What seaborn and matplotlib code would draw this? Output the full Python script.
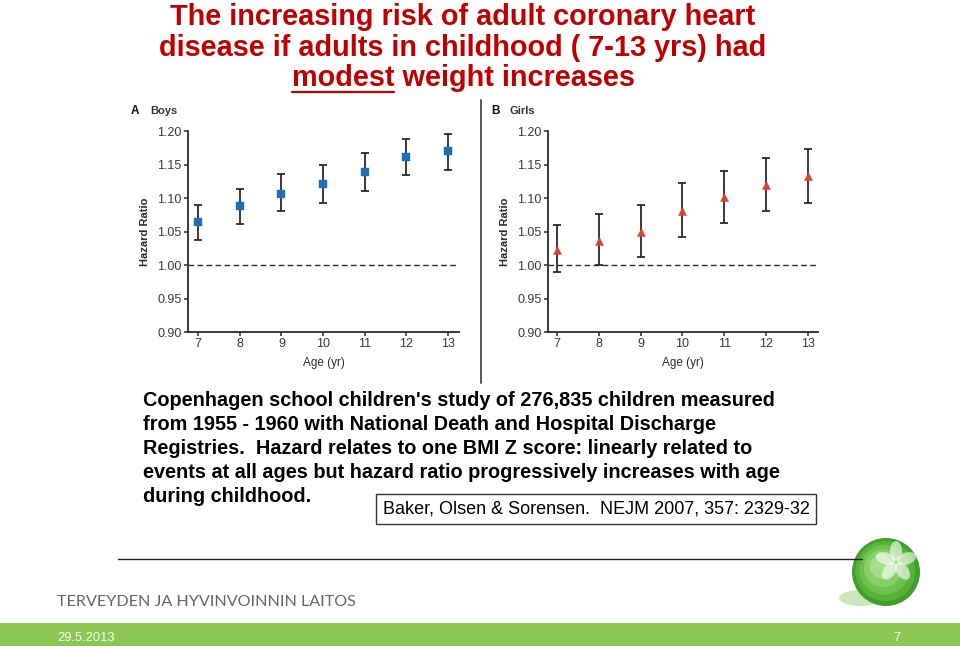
import numpy as np
import matplotlib
matplotlib.use("Agg")
import matplotlib.pyplot as plt
import matplotlib.patches as mpatches
import seaborn as sns
import pandas as pd

# Hazard ratios (point estimate, lower and upper 95% CI)
ages = [7, 8, 9, 10, 11, 12, 13]
boys_hr = [1.064, 1.088, 1.106, 1.121, 1.139, 1.161, 1.170]
boys_lo = [1.037, 1.061, 1.080, 1.093, 1.111, 1.134, 1.142]
boys_hi = [1.089, 1.114, 1.136, 1.149, 1.167, 1.188, 1.196]
girls_hr = [1.022, 1.036, 1.050, 1.081, 1.101, 1.119, 1.133]
girls_lo = [0.989, 1.000, 1.012, 1.042, 1.062, 1.080, 1.093]
girls_hi = [1.060, 1.076, 1.089, 1.122, 1.141, 1.160, 1.173]
y_ticks = [0.90, 0.95, 1.00, 1.05, 1.10, 1.15, 1.20]

title_lines = ["The increasing risk of adult coronary heart",
               "disease if adults in childhood ( 7-13 yrs) had"]
body_lines = ["Copenhagen school children's study of 276,835 children measured",
              "from 1955 - 1960 with National Death and Hospital Discharge",
              "Registries.  Hazard relates to one BMI Z score: linearly related to",
              "events at all ages but hazard ratio progressively increases with age",
              "during childhood."]
citation = "Baker, Olsen & Sorensen.  NEJM 2007, 357: 2329-32"

sns.set_style("ticks")
plt.rcParams['font.family'] = ['Liberation Sans', 'DejaVu Sans']

W, H = 960, 646
fig = plt.figure(figsize=(9.6, 6.46), dpi=100)


def px(x, y):
    # pixel position on the slide -> figure fraction
    return x / W, 1 - y / H


def box(x0, y0, x1, y1):
    return [x0 / W, 1 - y1 / H, (x1 - x0) / W, (y1 - y0) / H]


# Slide title
red = '#c00000'
tsize = 20.8
for i, line in enumerate(title_lines):
    fig.text(*px(463, 17 + 30.5 * i), line, ha='center', va='center',
             fontsize=tsize, fontweight='bold', color=red)
t3 = fig.text(*px(463, 78), "modest weight increases", ha='center', va='center',
              fontsize=tsize, fontweight='bold', color=red)
renderer = fig.canvas.get_renderer()
bb = t3.get_window_extent(renderer)
tmp = fig.text(0, 0, "modest", fontsize=tsize, fontweight='bold')
w_mod = tmp.get_window_extent(renderer).width
tmp.remove()
fig.add_artist(plt.Line2D([bb.x0 / W, (bb.x0 + w_mod) / W], [1 - 92 / H] * 2,
                          color=red, lw=1.6))

# The two panels
panels = [
    ("A", "Boys", boys_hr, boys_lo, boys_hi, 's', '#1f6fb3', box(188, 131, 459, 332), (6.76, 13.26)),
    ("B", "Girls", girls_hr, girls_lo, girls_hi, '^', '#d9432e', box(548, 131, 818, 332), (6.785, 13.24)),
]
dark = '#2a2a2a'
for letter, name, hr, lo, hi, mk, col, rect, xl in panels:
    ax = fig.add_axes(rect)
    df = pd.DataFrame({"age": ages, "hr": hr, "lo": lo, "hi": hi})
    ax.axhline(1.0, color=dark, ls=(0, (4, 2.5)), lw=1.0, zorder=1)
    ax.errorbar(df["age"], df["hr"], yerr=[df["hr"] - df["lo"], df["hi"] - df["hr"]],
                fmt='none', ecolor=dark, elinewidth=1.3, capsize=3.2, capthick=1.3, zorder=2)
    sns.scatterplot(data=df, x="age", y="hr", marker=mk, color=col, s=32 if mk == 's' else 34,
                    edgecolor=col, linewidth=0.3, ax=ax, zorder=3, legend=False)
    ax.set_xlim(*xl)
    ax.set_ylim(0.90, 1.20)
    ax.set_xticks(ages)
    ax.set_yticks(y_ticks)
    ax.set_yticklabels([f"{v:.2f}" for v in y_ticks])
    sns.despine(ax=ax)
    for s in ['left', 'bottom']:
        ax.spines[s].set_linewidth(1.3)
        ax.spines[s].set_color(dark)
    ax.tick_params(axis='both', labelsize=9, labelcolor='#3a3a3a', colors=dark,
                   length=3, width=1.1, pad=1.5)
    ax.set_xlabel("Age (yr)", fontsize=8.5, color=dark, labelpad=5)
    ax.set_ylabel("Hazard Ratio", fontsize=8, fontweight='bold', color=dark, labelpad=5)
    x0 = rect[0] * W
    fig.text(*px(x0 - 57, 111), letter, fontsize=8.5, fontweight='bold', color='#111', va='center')
    fig.text(*px(x0 - 38, 111), name, fontsize=8, fontweight='bold', color='#333', va='center')

# separator between the panels
fig.add_artist(plt.Line2D([481 / W] * 2, [1 - 100 / H, 1 - 383 / H], color='#555', lw=1.4))

# Description text
for i, line in enumerate(body_lines):
    fig.text(*px(143, 400 + 24 * i), line, ha='left', va='center',
             fontsize=14.3, fontweight='bold', color='black')

fig.text(*px(596, 509), citation, ha='center', va='center', fontsize=13, color='black',
         bbox=dict(boxstyle='square,pad=0.35', fc='white', ec='#333', lw=1.0))

# Footer
fig.add_artist(plt.Line2D([118 / W, 862 / W], [1 - 559 / H] * 2, color='#222', lw=1.0))
fig.text(*px(57, 602), "TERVEYDEN JA HYVINVOINNIN LAITOS", ha='left', va='center',
         fontsize=11.6, color='#666666', family='Lato')
fig.add_artist(mpatches.Rectangle((0, 0), 1, 23 / H, transform=fig.transFigure,
                                  fc='#8cc653', ec='none'))
fig.text(*px(57, 638), "29.5.2013", ha='left', va='center', fontsize=9.3, color='white')
fig.text(*px(897, 638), "7", ha='center', va='center', fontsize=9.3, color='white')

# green sphere logo
lax = fig.add_axes(box(830, 530, 940, 615))
lax.set_xlim(0, 110)
lax.set_ylim(85, 0)
lax.set_aspect('equal')
lax.axis('off')
lax.add_patch(mpatches.Ellipse((30, 68), 42, 16, fc='#a8d890', ec='none', alpha=0.6))
for r, c in zip([34, 30, 25, 19, 12], ['#3f9f2a', '#56b33a', '#6cc24c', '#86d066', '#a5de88']):
    lax.add_patch(mpatches.Circle((56 - (34 - r) * 0.2, 42 - (34 - r) * 0.25), r, fc=c, ec='none'))
for ang in [0, 72, 144, 216, 288]:
    a = np.deg2rad(ang - 90)
    lax.add_patch(mpatches.Ellipse((66 + 11 * np.cos(a), 32 + 11 * np.sin(a)), 20, 12,
                                   angle=ang - 90, fc='white', ec='none', alpha=0.6))

fig.savefig("out.png", dpi=100)
